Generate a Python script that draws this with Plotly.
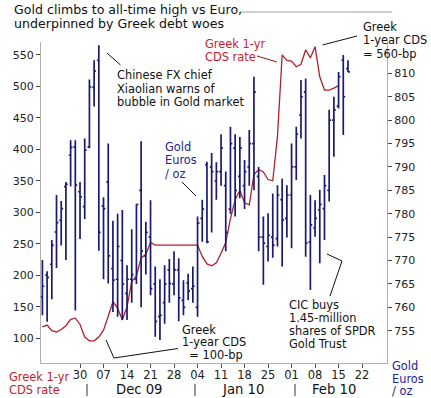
import numpy as np
import pandas as pd
import plotly.graph_objects as go

# ---------------- data ----------------
dates = [d.strftime("%Y-%m-%d") for d in pd.bdate_range("2009-11-18", "2010-02-17")]

gold_high = [770.1, 767.7, 774.4, 784.0, 782.7, 786.8, 795.7, 795.7, 786.8, 796.1,
             808.7, 812.8, 816.0, 783.5, 795.0, 778.5, 780.0, 780.8, 769.0, 776.7,
             782.0, 795.5, 778.3, 782.9, 768.7, 766.0, 769.0, 770.3, 772.0, 770.5,
             765.8, 767.2, 768.7, 779.4, 783.0, 791.1, 793.0, 791.0, 797.0, 789.0,
             798.6, 797.0, 796.4, 791.5, 797.9, 809.3, 790.0, 779.4, 780.1, 784.3,
             786.1, 787.5, 786.1, 795.0, 798.6, 808.6, 808.9, 784.0, 782.9, 785.1,
             788.3, 802.2, 805.0, 810.3, 813.9, 812.8]
gold_low = [758.3, 756.9, 761.7, 768.4, 773.2, 770.1, 785.8, 759.3, 774.6, 778.9,
            794.0, 802.9, 772.1, 766.0, 765.1, 759.0, 758.0, 757.3, 757.3, 761.0,
            765.0, 760.0, 767.0, 762.6, 753.7, 753.0, 756.5, 761.0, 762.6, 757.0,
            758.3, 761.5, 761.0, 758.0, 774.0, 773.7, 776.0, 783.0, 786.0, 772.0,
            780.0, 779.4, 783.3, 781.0, 786.0, 785.0, 772.0, 764.8, 769.8, 770.6,
            773.0, 768.7, 774.9, 772.6, 787.2, 796.1, 770.8, 763.7, 775.1, 769.4,
            774.4, 782.6, 792.2, 802.5, 796.8, 810.3]
gold_open = [762.3, 766.9, 769.2, 776.1, 778.6, 785.8, 792.5, 794.3, 784.7, 781.5,
             794.3, 807.0, 812.8, 781.7, 786.8, 768.3, 766.0, 770.0, 763.0, 766.0,
             766.0, 785.0, 771.0, 775.0, 765.0, 758.0, 761.0, 768.0, 765.0, 768.0,
             761.5, 765.2, 764.0, 760.0, 779.0, 790.5, 790.0, 787.0, 789.0, 786.0,
             781.0, 794.0, 788.0, 786.0, 790.0, 795.0, 788.0, 775.0, 773.0, 775.0,
             774.7, 783.0, 779.0, 784.0, 790.0, 801.1, 806.0, 774.0, 777.0, 780.8,
             781.1, 785.0, 800.0, 803.0, 812.8, 811.0]
gold_close = [764.5, 766.4, 773.3, 778.1, 781.1, 786.3, 794.2, 786.1, 783.6, 793.6,
              807.1, 810.5, 776.0, 781.1, 771.0, 765.8, 773.0, 765.0, 766.0, 767.0,
              782.0, 772.0, 776.0, 764.0, 757.0, 758.3, 765.0, 765.1, 768.0, 762.0,
              760.0, 763.5, 764.5, 778.0, 781.0, 774.0, 789.0, 789.0, 794.0, 776.0,
              795.0, 785.0, 794.0, 789.0, 795.0, 806.0, 775.0, 773.7, 775.4, 773.3,
              784.0, 778.7, 784.0, 790.0, 797.0, 805.0, 773.7, 777.6, 779.0, 782.0,
              786.0, 800.0, 802.2, 809.3, 805.0, 810.3]

cds_rate = [118, 121, 112, 110, 114, 120, 130, 132, 122, 102,
            96, 96, 102, 113, 135, 158, 148, 129, 150, 190,
            199, 228, 233, 252, 248, 248, 248, 248, 248, 248,
            248, 248, 248, 248, 230, 218, 215, 220, 235, 252,
            290, 320, 335, 315, 312, 360, 368, 364, 352, 350,
            420, 550, 541, 540, 531, 535, 558, 545, 563, 515,
            494, 494, 497, 501]

week_ticks = ["2009-11-30", "2009-12-07", "2009-12-14", "2009-12-21", "2009-12-28",
              "2010-01-04", "2010-01-11", "2010-01-18", "2010-01-25", "2010-02-01",
              "2010-02-08", "2010-02-15", "2010-02-22"]
week_labels = ["30", "07", "14", "21", "28", "04", "11", "18", "25", "01", "08", "15", "22"]
months = ["Dec 09", "Jan 10", "Feb 10"]
left_ticks = [100, 150, 200, 250, 300, 350, 400, 450, 500, 550]
right_ticks = [755, 760, 765, 770, 775, 780, 785, 790, 795, 800, 805, 810]

# ---------------- positions (business-day index) ----------------
start = dates[0]
xg = np.busday_count(start, dates)
xc = xg[:len(cds_rate)]
xt = np.busday_count(start, week_ticks)

W, H = 431, 398
ML, MR, MT, MB = 41, 44, 42, 35
PW, PH = W - ML - MR, H - MT - MB


def px(x):
    return (x - ML) / PW


def py(y):
    return (H - MB - y) / PH


NAVY = "#1a1a72"
RED = "#b3202a"
TXTRED = "#c4222c"
TXTNAVY = "#23239a"
FONT = "DejaVu Sans"

fig = go.Figure()
fig.add_trace(go.Scatter(x=xc, y=cds_rate, mode="lines", line=dict(color=RED, width=1.3),
                         yaxis="y", hoverinfo="skip", showlegend=False))
fig.add_trace(go.Ohlc(x=xg, open=gold_open, high=gold_high, low=gold_low, close=gold_close,
                      yaxis="y2", tickwidth=0.4, text=dates,
                      increasing=dict(line=dict(color=NAVY, width=1.7)),
                      decreasing=dict(line=dict(color=NAVY, width=1.7)),
                      showlegend=False))

ann = []


def text_block(lines, x, y0, dy, color="#111", size=11.4, anchor="left"):
    for k, t in enumerate(lines):
        ann.append(dict(x=px(x), y=py(y0 + k * dy), xref="paper", yref="paper", text=t,
                        showarrow=False, xanchor=anchor, yanchor="middle",
                        font=dict(family=FONT, size=size, color=color)))


text_block(["Gold climbs to all-time high vs Euro,", "underpinned by Greek debt woes"],
           12, 9, 14.4, color="#111", size=12.6)
text_block(["Chinese FX chief", "Xiaolian warns of", "bubble in Gold market"], 115, 75.5, 13.3)
text_block(["Greek 1-yr", "CDS rate"], 202.5, 44.5, 12.8, color=TXTRED)
text_block(["Greek", "1-year CDS", "= 560-bp"], 361, 27, 13.3)
text_block(["Gold", "Euros", "/ oz"], 162.5, 147, 13.3, color=TXTNAVY)
text_block(["CIC buys", "1.45-million", "shares of SPDR", "Gold Trust"], 286.5, 305, 13)
text_block(["Greek", "1-year CDS", "  = 100-bp"], 180, 329.5, 12.8)
text_block(["Greek 1-yr", "CDS rate"], 6.5, 377, 13, color=TXTRED)
text_block(["Gold", "Euros", "/ oz"], 390, 366, 12.6, color=TXTNAVY)

# month labels
for m, xm in zip(months, [139, 243, 334]):
    ann.append(dict(x=px(xm), y=py(390), xref="paper", yref="paper", text=m, showarrow=False,
                    xanchor="center", yanchor="middle",
                    font=dict(family=FONT, size=13.2, color="#111")))

shapes = []


def seg(pts, color="#111", width=1):
    for (x0, y0), (x1, y1) in zip(pts[:-1], pts[1:]):
        shapes.append(dict(type="line", xref="paper", yref="paper",
                           x0=px(x0), y0=py(y0), x1=px(x1), y1=py(y1),
                           line=dict(color=color, width=width)))


seg([(240, 12), (392, 12)], color="#a0a0a0")
seg([(107, 53), (120.5, 65)])
seg([(257, 56), (277, 62)], color="#7a1a1a")
seg([(322.5, 45), (357, 36)])
seg([(182, 182), (196, 196)])
seg([(327, 254), (342, 261), (330, 296)])
seg([(106, 340), (114, 358), (178, 348.5)])
for xs in [87, 195, 295]:
    seg([(xs, 384), (xs, 396)], color="#333")

fig.update_layout(
    width=W, height=H, margin=dict(l=ML, r=MR, t=MT, b=MB),
    paper_bgcolor="white", plot_bgcolor="white", showlegend=False,
    annotations=ann, shapes=shapes,
    xaxis=dict(range=[-0.3, 73.3], rangeslider=dict(visible=False), showgrid=False,
               zeroline=False, showline=True, linecolor="#b0b0b0", linewidth=1,
               tickmode="array", tickvals=xt, ticktext=week_labels,
               ticks="outside", ticklen=4, tickcolor="#555", ticklabelstandoff=-3,
               tickfont=dict(family=FONT, size=11.5, color="#222")),
    yaxis=dict(range=[60.8, 570.3], showgrid=False, zeroline=False, showline=True,
               linecolor="#b0b0b0", linewidth=1, tickmode="array", tickvals=left_ticks,
               ticks="outside", ticklen=4, tickcolor="#444",
               tickfont=dict(family=FONT, size=11, color="#222")),
    yaxis2=dict(range=[748.1, 816.7], overlaying="y", side="right", showgrid=False,
                zeroline=False, showline=True, linecolor="#b0b0b0", linewidth=1,
                tickmode="array", tickvals=right_ticks, ticks="outside", ticklen=4,
                tickcolor="#444", tickfont=dict(family=FONT, size=11, color="#222")),
)

fig.write_html("out.html", config={"displayModeBar": False},
               post_script="document.body.style.margin='0';document.body.style.overflow='hidden';")
